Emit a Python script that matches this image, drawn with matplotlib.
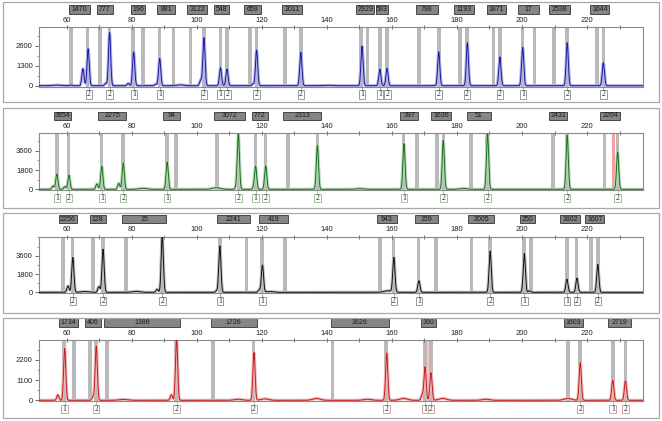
import numpy as np
import matplotlib.pyplot as plt
from matplotlib.patches import Rectangle
from matplotlib.transforms import blended_transform_factory

W, H = 662, 421

# ---- panel 1 (blue) ----
bins1 = [61.4, 66.4, 70.2, 73.2, 80.4, 83.5, 88.6, 92.9, 98.1, 102.2, 107.3, 109.3, 116.3, 118.4,
         127.1, 132.0, 150.5, 152.5, 156.4, 158.5, 168.4, 174.4, 181.0, 183.1, 191.2, 193.2,
         200.2, 203.9, 209.9, 213.8, 223.0, 225.0]
peak_x1 = [61.4, 65.0, 66.6, 72.0, 73.2, 78.9, 80.6, 87.4, 88.6, 101.2, 102.2, 107.3, 109.3, 117.3,
           118.4, 132.0, 150.8, 156.3, 158.5, 174.4, 183.2, 193.2, 200.2, 213.9, 225.0]
peak_h1 = [60, 1100, 2400, 150, 3450, 150, 2200, 100, 1780, 350, 3120, 1170, 1085, 120,
           2320, 2170, 2580, 1085, 1130, 2210, 2800, 1880, 2500, 2800, 1500]
bump_x1 = [57.0, 95.0, 140.0]
bump_h1 = [40, 50, 30]
labels1 = ["1470", "777", "196", "881", "3122", "548", "659", "2011", "2929", "593", "798",
           "1193", "1871", "17", "2538", "1644"]
lab_x0_1 = [60.6, 69.3, 79.7, 87.8, 97.1, 105.3, 114.6, 126.2, 149.0, 155.1, 167.4, 179.0,
            189.2, 198.9, 208.4, 220.9]
lab_x1_1 = [67.3, 74.1, 84.1, 93.4, 103.2, 109.9, 119.7, 132.5, 154.6, 158.9, 174.1, 185.1,
            195.2, 205.3, 214.8, 226.9]
mark_x1 = [66.8, 73.2, 80.7, 88.7, 102.2, 107.3, 109.4, 118.4, 132.0, 150.8, 156.4, 158.6,
           174.4, 183.1, 193.2, 200.3, 213.9, 225.0]
mark_d1 = ["2", "2", "1", "1", "2", "1", "2", "2", "2", "1", "1", "2", "2", "2", "2", "1", "2", "2"]

# ---- panel 2 (green) ----
bins2 = [57.0, 60.6, 70.7, 77.3, 90.9, 93.7, 106.2, 112.8, 118.1, 121.1, 128.0, 137.1, 163.6,
         167.7, 173.8, 175.8, 184.4, 189.3, 209.5, 213.8, 225.3, 229.4]
red_bins2 = [228.1]
peak_x2 = [55.8, 57.0, 59.4, 60.7, 69.3, 70.8, 76.0, 77.4, 90.9, 112.2, 112.8, 117.6, 118.1,
           121.2, 137.1, 163.7, 175.8, 189.4, 213.9, 229.4]
peak_h2 = [300, 1430, 250, 1330, 500, 2170, 560, 2480, 2570, 250, 5120, 200, 2110,
           2200, 4120, 4280, 4590, 5210, 5050, 3500]
bump_x2 = [83.5, 106.0, 150.0, 182.0]
bump_h2 = [100, 150, 60, 80]
labels2 = ["3854", "2275", "94", "3072", "772", "2313", "397", "1636", "51", "2431", "2264"]
lab_x0_2 = [56.1, 69.6, 89.6, 105.2, 117.0, 126.6, 162.6, 172.0, 183.1, 208.4, 224.1]
lab_x1_2 = [61.4, 78.4, 94.8, 114.8, 121.8, 138.2, 168.1, 178.2, 190.5, 213.8, 230.2]
mark_x2 = [57.0, 60.7, 70.8, 77.4, 90.9, 112.8, 118.1, 121.2, 137.1, 163.7, 175.8, 189.4,
           213.9, 229.4]
mark_d2 = ["1", "2", "1", "2", "1", "2", "1", "2", "2", "1", "2", "2", "2", "2"]

# ---- panel 3 (black) ----
bins3 = [58.9, 61.8, 68.1, 71.2, 78.2, 89.3, 107.1, 115.3, 120.1, 127.1, 156.4, 160.5, 168.2,
         173.5, 184.5, 190.2, 200.7, 202.8, 213.8, 216.8, 221.2, 223.3]
peak_x3 = [60.4, 61.9, 69.9, 71.2, 87.8, 89.4, 106.1, 107.1, 119.2, 120.2, 160.6, 168.3, 190.2,
           200.7, 202.3, 213.8, 216.9, 223.3]
peak_h3 = [620, 3430, 560, 4250, 300, 5600, 150, 4580, 250, 2680, 3400, 1145, 4055,
           3830, 150, 1310, 1405, 2750]
bump_x3 = [65.5, 81.4, 122.5, 158.7]
bump_h3 = [80, 100, 80, 150]
labels3 = ["2256", "128", "15", "2241", "419", "943", "159", "2005", "250", "1802", "1607"]
lab_x0_3 = [57.5, 67.1, 77.1, 106.2, 119.2, 155.4, 167.2, 183.5, 199.4, 211.8, 219.5]
lab_x1_3 = [63.2, 72.0, 90.4, 116.5, 128.1, 161.5, 174.1, 191.3, 204.0, 217.9, 225.3]
mark_x3 = [61.9, 71.2, 89.4, 107.1, 120.2, 160.6, 168.3, 190.2, 200.7, 213.8, 216.9, 223.3]
mark_d3 = ["2", "2", "2", "1", "1", "2", "1", "2", "1", "1", "2", "2"]

# ---- panel 4 (red) ----
bins4 = [59.1, 62.2, 67.1, 69.1, 72.4, 93.7, 105.0, 117.5, 141.8, 158.2, 170.2, 172.0, 214.1,
         217.9, 227.9, 231.8]
pink_span4 = (170.2, 172.0)
peak_x4 = [57.3, 59.4, 68.1, 69.1, 92.2, 93.8, 117.6, 158.4, 169.3, 170.2, 172.0, 217.9,
           227.9, 231.8]
peak_h4 = [290, 2810, 200, 2950, 300, 3400, 2590, 2575, 300, 1820, 1510, 2050, 1100, 1060]
bump_x4 = [77.3, 112.7, 120.9, 136.8, 152.5, 163.6, 175.6, 188.9, 214.1]
bump_h4 = [50, 60, 80, 100, 60, 100, 100, 60, 100]
labels4 = ["1734", "406", "1386", "1726", "3626", "360", "1603", "2719"]
lab_x0_4 = [57.8, 65.5, 71.5, 104.3, 141.2, 168.9, 212.8, 226.4]
lab_x1_4 = [63.5, 70.7, 95.0, 118.4, 159.2, 173.5, 218.7, 233.5]
mark_x4 = [59.4, 69.1, 93.8, 117.6, 158.4, 170.2, 172.0, 217.9, 227.9, 231.8]
mark_d4 = ["1", "2", "2", "2", "2", "1", "2", "2", "1", "2"]

# y ticks per panel
yticks1 = [0, 1300, 2600]
yticks2 = [0, 1800, 3600]
yticks3 = [0, 1800, 3600]
yticks4 = [0, 1100, 2200]

XMIN, XMAX = 51.5, 237.2


def trace(xs, px, ph, bx, bh):
    y = np.zeros_like(xs)
    for p, h in zip(px, ph):
        y += h * np.exp(-(xs - p) ** 2 / (2 * 0.33 ** 2))
    for p, h in zip(bx, bh):
        y += h * np.exp(-(xs - p) ** 2 / (2 * 1.2 ** 2))
    return y


def panel(rect_px, ymax, yticks, bins, px, ph, bx, bh, labels, lx0, lx1, mx, md,
          col, halo, mark_edge, frame_px):
    left, top, right, bottom = rect_px
    ax = fig.add_axes([left / W, 1 - bottom / H, (right - left) / W, (bottom - top) / H])
    h_px = bottom - top
    # frame around the panel
    fl, ft, fr, fb = frame_px
    fig.add_artist(Rectangle((fl / W, 1 - fb / H), (fr - fl) / W, (fb - ft) / H,
                             transform=fig.transFigure, fill=False, ec='#a8a8a8', lw=0.9))
    ax.set_xlim(XMIN, XMAX)
    ax.set_ylim(-ymax / h_px * 1.0, ymax)

    for b in bins:
        ax.axvspan(b - 0.55, b + 0.55, color='#b9b9b9', lw=0, zorder=1)

    xs = np.linspace(XMIN, XMAX, 6000)
    ys = trace(xs, px, ph, bx, bh)
    ax.plot(xs, ys, color=halo, lw=2.2, zorder=2, solid_joinstyle='round')
    ax.plot(xs, ys, color=col, lw=0.7, zorder=3)

    # x ticks on top
    ax.xaxis.tick_top()
    ax.set_xticks(np.arange(60, 221, 20))
    ax.set_xticks(np.arange(60, 231, 10), minor=True)
    ax.tick_params(axis='x', which='major', length=3, width=0.6, pad=1, labelsize=5.5,
                   colors='#555555', labelcolor='#222222', direction='inout')
    ax.tick_params(axis='x', which='minor', length=3, width=0.6, colors='#555555',
                   direction='inout')
    ax.set_yticks(yticks)
    step = yticks[1] - yticks[0]
    ax.set_yticks(np.arange(0, ymax, step / 2), minor=True)
    ax.set_yticklabels([str(t) for t in yticks])
    ax.tick_params(axis='y', which='major', length=3, width=0.6, pad=1.5, labelsize=5.5,
                   colors='#555555', labelcolor='#222222')
    ax.tick_params(axis='y', which='minor', length=1.5, width=0.5, colors='#777777')
    for s in ax.spines.values():
        s.set_color('#8a8a8a')
        s.set_linewidth(0.8)

    # size label boxes above the axes
    tb = blended_transform_factory(ax.transData, ax.transAxes)
    y0 = 1 + 13.5 / h_px
    hh = 8.3 / h_px
    for t, a, b in zip(labels, lx0, lx1):
        ax.add_patch(Rectangle((a, y0), b - a, hh, transform=tb, fc='#858585', ec='#333333',
                               lw=0.6, clip_on=False, zorder=5))
        ax.text((a + b) / 2, y0 + hh / 2, t, transform=tb, ha='center', va='center',
                fontsize=5, color='#1a1a1a', clip_on=False, zorder=6,
                family='Liberation Sans')

    # allele markers below the axes
    y1 = -3.5 / h_px
    mh = 8.3 / h_px
    for x, d in zip(mx, md):
        ax.plot([x, x], [0, y1], transform=tb, color=mark_edge, lw=0.6, clip_on=False)
        ax.add_patch(Rectangle((x - 1.0, y1 - mh), 2.0, mh, transform=tb, fc='white',
                               ec=mark_edge, lw=0.7, clip_on=False, zorder=5))
        ax.text(x, y1 - mh / 2, d, transform=tb, ha='center', va='center', fontsize=5.5,
                family='Liberation Serif', color='#222222', clip_on=False, zorder=6)
    return ax


fig = plt.figure(figsize=(W / 100, H / 100), dpi=100)
plt.rcParams['font.family'] = ['Liberation Sans', 'DejaVu Sans']

panel((39, 27, 643, 86.7), 3815, yticks1, bins1, peak_x1, peak_h1, bump_x1, bump_h1,
      labels1, lab_x0_1, lab_x1_1, mark_x1, mark_d1, '#1a1aa0', '#b4b4e4', '#9a9aa8',
      (3, 2, 659, 102))
ax2 = panel((39, 133.3, 643, 190.3), 5223, yticks2, bins2, peak_x2, peak_h2, bump_x2, bump_h2,
            labels2, lab_x0_2, lab_x1_2, mark_x2, mark_d2, '#1f6e1f', '#b6d8b6', '#a4c0a0',
            (3, 108, 659, 207.5))
for b in red_bins2:
    ax2.axvspan(b - 0.55, b + 0.55, color='#f2a0a0', lw=0, zorder=1)
panel((39, 236.7, 643, 293.3), 5470, yticks3, bins3, peak_x3, peak_h3, bump_x3, bump_h3,
      labels3, lab_x0_3, lab_x1_3, mark_x3, mark_d3, '#111111', '#c0c0c0', '#999999',
      (3, 212.5, 659, 313))
ax4 = panel((39, 340, 643, 401.3), 3268, yticks4, bins4, peak_x4, peak_h4, bump_x4, bump_h4,
            labels4, lab_x0_4, lab_x1_4, mark_x4, mark_d4, '#c41c1c', '#f0b8b8', '#d4a0a0',
            (3, 318, 659, 418))
ax4.axvspan(pink_span4[0], pink_span4[1], color='#f6c4c4', lw=0, zorder=0.5)

fig.savefig('out.png', dpi=100)
